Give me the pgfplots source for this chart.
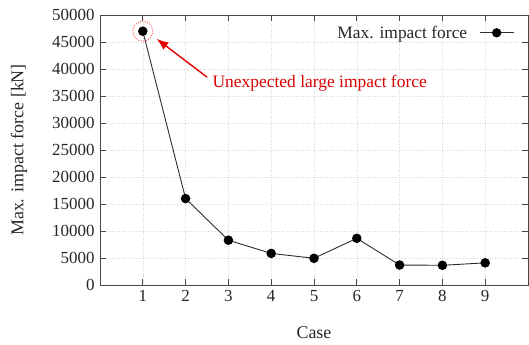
\documentclass[border=0pt]{standalone}
\usepackage{fontspec}
\setmainfont{Liberation Serif}
\usepackage{pgfplots}
\usetikzlibrary{arrows.meta}
\pgfplotsset{compat=1.18}
\begin{document}
\begin{tikzpicture}
\begin{axis}[
  scale only axis,
  width=428bp, height=270bp,
  xmin=0, xmax=10, ymin=0, ymax=50000,
  xtick={1,...,9},
  ytick={0,5000,...,50000},
  scaled y ticks=false,
  /pgf/number format/1000 sep={},
  /pgf/number format/assume math mode=true,
  tick align=inside,
  major tick length=6bp,
  tick style={gray!55!black, line width=0.7pt},
  axis line style={gray!55!black, line width=1pt},
  grid=major,
  major grid style={dotted, gray!30, line width=0.6pt},
  ticklabel style={font=\fontsize{17}{19}\selectfont, text=black!85},
  xticklabel style={yshift=-2bp},
  yticklabel style={xshift=-2bp},
  xlabel={Case},
  ylabel={Max. impact force [kN]},
  every axis x label/.style={at={(axis description cs:0.5,0)}, anchor=center, yshift=-48bp,
    font=\fontsize{18}{21}\selectfont, text=black!85},
  every axis y label/.style={at={(axis description cs:0,0.5)}, anchor=center, xshift=-81bp, rotate=90,
    font=\fontsize{18}{21}\selectfont, text=black!85},
  legend style={draw=none, fill=none, at={(0.975,0.975)}, anchor=north east,
    font=\fontsize{17.5}{20}\selectfont, text=black!85,
    /tikz/every odd column/.append style={column sep=10bp}},
  legend plot pos=right,
  legend image code/.code={
    \draw[#1] (0bp,0bp) -- (34bp,0bp);
    \draw[#1, only marks, mark size=4.2pt] plot coordinates {(17bp,0bp)};
  },
]
\addplot[gray!35!black, line width=0.9pt, mark=*, mark size=4.3pt,
  mark options={black, fill=black, solid}]
  coordinates {(1,47000) (2,16000) (3,8300) (4,5850) (5,4950) (6,8650) (7,3700) (8,3650) (9,4100)};
\addlegendentry{Max. impact force}
\addplot[forget plot, only marks, mark=o, mark size=10bp,
  mark options={draw=red!75, fill=none, dash pattern=on 1pt off 1.5pt, line width=0.8pt}]
  coordinates {(1,47000)};
\draw[-{Latex[length=12bp,width=9bp]}, red!90!black, line width=1.4pt] (axis cs:2.5,38500) -- (axis cs:1.32,45600);
\node[anchor=west, text=red!85!black, font=\fontsize{17.5}{20}\selectfont] at (axis cs:2.55,37300) {Unexpected large impact force};
\end{axis}
\pgfresetboundingbox
\path ([shift={(-100bp,-60bp)}]current axis.south west) rectangle ([shift={(1bp,15bp)}]current axis.north east);
\end{tikzpicture}
\end{document}
